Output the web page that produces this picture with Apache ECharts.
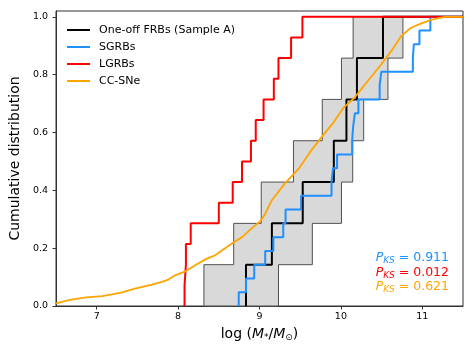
<!DOCTYPE html>
<html><head><meta charset="utf-8">
<script src="https://cdn.jsdelivr.net/npm/echarts@6/dist/echarts.min.js"></script>
<style>html,body{margin:0;padding:0;background:#fff}#c{width:474px;height:356px}</style>
</head><body><div id="c"></div>
<script>
// ---- data ----
const seriesNames = ['One-off FRBs (Sample A)', 'SGRBs', 'LGRBs', 'CC-SNe'];
const frbMass = [8.834, 9.152, 9.531, 9.913, 10.068, 10.197, 10.517];
const frbUpperMass = [8.317, 8.683, 9.021, 9.417, 9.771, 10.007, 10.150];
const frbLowerMass = [9.233, 9.649, 10.007, 10.145, 10.280, 10.578, 10.762];
const sgrbMass = [8.745, 8.834, 8.935, 9.070, 9.170, 9.292, 9.320, 9.511, 9.885, 9.903, 9.953,
                  10.138, 10.150, 10.172, 10.215, 10.476, 10.496, 10.884, 10.896, 10.965, 11.099];
const lgrbMass = [8.079, 8.096, 8.096, 8.155, 8.500, 8.671, 8.785, 8.895, 8.954, 9.050,
                  9.176, 9.233, 9.388, 9.527];
const ccsnMass = [6.50, 6.67, 6.87, 7.07, 7.30, 7.48, 7.68, 7.81, 7.87, 7.97, 8.09, 8.21, 8.34, 8.46,
                  8.66, 8.79, 8.91, 9.01, 9.07, 9.15, 9.31, 9.48, 9.62, 9.76, 9.91, 10.03,
                  10.17, 10.25, 10.33, 10.48, 10.62, 10.74, 10.86, 10.99, 11.11, 11.23, 11.28, 11.50];
const ccsnCdf  = [0.009, 0.021, 0.030, 0.034, 0.046, 0.061, 0.074, 0.084, 0.090, 0.107, 0.120, 0.141, 0.162, 0.176,
                  0.216, 0.239, 0.270, 0.293, 0.319, 0.365, 0.423, 0.474, 0.532, 0.583, 0.635, 0.685,
                  0.721, 0.750, 0.778, 0.830, 0.882, 0.933, 0.962, 0.977, 0.989, 0.997, 1.000, 1.000];
const xTicks = [7, 8, 9, 10, 11];
const yTicks = [0, 0.2, 0.4, 0.6, 0.8, 1.0];
const pksValues = ['0.911', '0.012', '0.621'];
const colors = ['#000000', '#1E90FF', '#FF0000', '#FFA500'];

// ---- helpers ----
function ecdf(xs, extendTo) {
  const n = xs.length, pts = [[xs[0], 0]];
  xs.forEach((x, i) => { pts.push([x, i / n]); pts.push([x, (i + 1) / n]); });
  pts.push([extendTo, 1]);
  return pts;
}
function bandPolygon(up, lo) {
  const n = up.length, pts = [[up[0], 0]];
  up.forEach((x, i) => { pts.push([x, i / n]); pts.push([x, (i + 1) / n]); });
  for (let i = n - 1; i >= 0; i--) { pts.push([lo[i], (i + 1) / n]); pts.push([lo[i], i / n]); }
  return pts;
}
const band = bandPolygon(frbUpperMass, frbLowerMass);
const FONT = 'DejaVu Sans';

const chart = echarts.init(document.getElementById('c'), null, {renderer: 'canvas'});
const lineSeries = (name, data, color, w) => ({
  name, type: 'line', data, showSymbol: false, symbol: 'none', color,
  lineStyle: {color, width: w}, animation: false, clip: true
});
const pksRich = c => ({
  p: {fontFamily: FONT, fontSize: 12.5, fontStyle: 'italic', fill: c, color: c},
  s: {fontFamily: FONT, fontSize: 9, fontStyle: 'italic', fill: c, color: c, padding: [6, 0, 0, 0]},
  v: {fontFamily: FONT, fontSize: 12.5, fill: c, color: c}
});
const pksY = [258, 272.5, 287];
const pksColors = [colors[1], colors[2], colors[3]];

chart.setOption({
  animation: false,
  backgroundColor: '#fff',
  grid: {left: 53, right: 11, top: 11, bottom: 50, show: true, borderColor: '#333', borderWidth: 1, backgroundColor: 'transparent'},
  legend: {
    data: seriesNames, orient: 'vertical', left: 62, top: 18, itemGap: 3,
    icon: 'rect', itemWidth: 23, itemHeight: 2,
    textStyle: {fontFamily: FONT, fontSize: 11, color: '#000', lineHeight: 14, padding: [0, 0, 0, 4]}
  },
  xAxis: {
    type: 'value', min: 6.5, max: 11.5,
    name: '{n|log (}{i|M}{s|*}{n|/}{i|M}{s|⊙}{n|)}', nameLocation: 'middle', nameGap: 20,
    nameTextStyle: {fontFamily: FONT, fontSize: 14, color: '#000', verticalAlign: 'top',
      rich: {n: {fontFamily: FONT, fontSize: 14, color: '#000'},
             i: {fontFamily: FONT, fontSize: 14, fontStyle: 'italic', color: '#000'},
             s: {fontFamily: FONT, fontSize: 9, color: '#000', padding: [7, 0, 0, 0]}}},
    axisLine: {show: true, lineStyle: {color: '#333', width: 1}},
    axisTick: {show: true, length: 3.5, customValues: xTicks, lineStyle: {color: '#333'}},
    axisLabel: {customValues: xTicks, fontFamily: FONT, fontSize: 9.5, color: '#000', margin: 6},
    splitLine: {show: false}
  },
  yAxis: {
    type: 'value', min: 0, max: 1.02,
    name: 'Cumulative distribution', nameLocation: 'middle', nameGap: 25,
    nameTextStyle: {fontFamily: FONT, fontSize: 14, color: '#000'},
    axisLine: {show: true, lineStyle: {color: '#333', width: 1}},
    axisTick: {show: true, length: 3.5, customValues: yTicks, lineStyle: {color: '#333'}},
    axisLabel: {customValues: yTicks, fontFamily: FONT, fontSize: 9.5, color: '#000', margin: 8,
      formatter: v => v.toFixed(1)},
    splitLine: {show: false}
  },
  series: [
    {
      type: 'custom', name: 'band', data: [[frbUpperMass[0], 0]], silent: true, animation: false,
      renderItem: (params, api) => ({
        type: 'polygon',
        shape: {points: band.map(p => api.coord(p))},
        style: {fill: '#d9d9d9', stroke: '#505050', lineWidth: 1}
      })
    },
    lineSeries(seriesNames[0], ecdf(frbMass, 11.5), colors[0], 2),
    lineSeries(seriesNames[1], ecdf(sgrbMass, 11.5), colors[1], 2),
    lineSeries(seriesNames[2], ecdf(lgrbMass, 11.5), colors[2], 2),
    lineSeries(seriesNames[3], ccsnMass.map((x, i) => [x, ccsnCdf[i]]), colors[3], 1.8)
  ],
  graphic: pksValues.map((v, k) => ({
    type: 'text', x: 449, y: pksY[k], silent: true,
    style: {text: '{p|P}{s|KS}{v| = ' + v + '}', align: 'right', verticalAlign: 'middle',
            rich: pksRich(pksColors[k])}
  }))
});
</script></body></html>
